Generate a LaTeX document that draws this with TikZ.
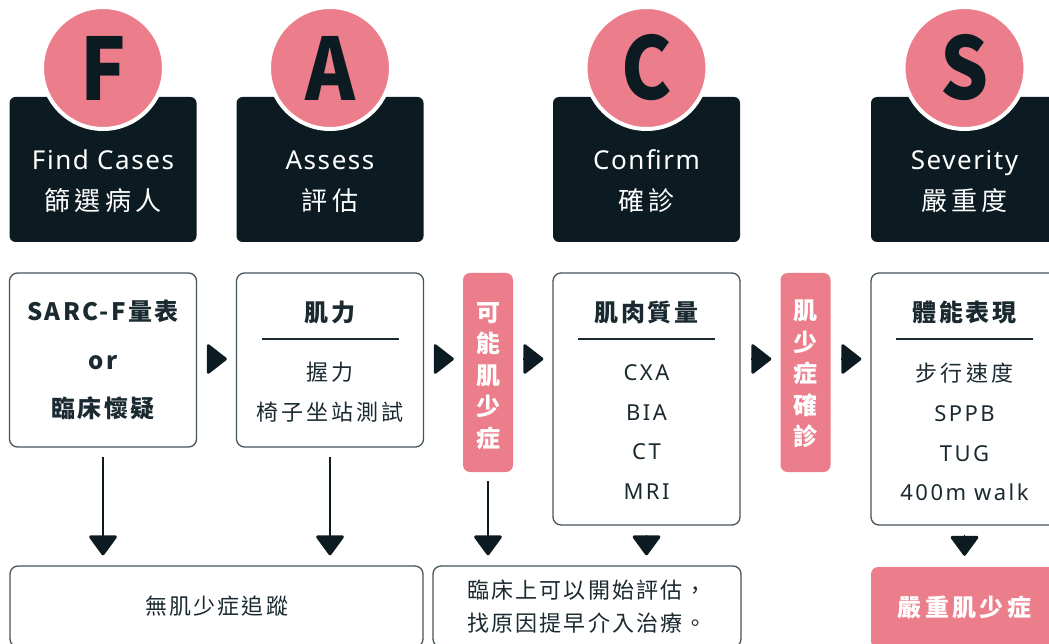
\documentclass[tikz,border=0pt]{standalone}
\usepackage{fontspec}
\setmainfont{Noto Sans}[LetterSpace=6]
\newfontfamily\tc{Noto Sans CJK TC}[LetterSpace=10]
\newfontfamily\badgefont{Noto Sans CJK TC}
\usetikzlibrary{arrows.meta}

\definecolor{ink}{HTML}{0B1B21}
\definecolor{rose}{HTML}{EC7D8B}
\definecolor{edge}{HTML}{46555B}
\definecolor{txt}{HTML}{1A2A30}

\tikzset{
  hdr/.style={fill=ink, rounded corners=6pt, minimum width=187pt, minimum height=145pt, inner sep=0pt},
  badge/.style={circle, fill=rose, draw=white, line width=4pt, minimum size=122pt, inner sep=0pt,
    text=ink, font=\badgefont\bfseries\fontsize{86}{86}\selectfont},
  hdtext/.style={text=white, inner sep=0pt, text height=19pt, text depth=0pt, font=\fontsize{26}{30}\selectfont},
  card/.style={draw=edge, line width=1.3pt, rounded corners=8pt, fill=white, inner sep=0pt},
  tag/.style={fill=rose, rounded corners=7pt, inner sep=0pt},
  head/.style={text=txt, inner sep=0pt, text height=18pt, text depth=0pt, font=\tc\bfseries\fontsize{24}{28}\selectfont},
  list/.style={text=txt, inner sep=0pt, align=center, font=\addfontfeatures{LetterSpace=11}\fontsize{22}{39.7}\selectfont},
  vtext/.style={text=white, inner sep=0pt, align=center, font=\tc\bfseries\fontsize{24}{31.5}\selectfont},
  rule/.style={txt, line width=1.2pt},
  flow/.style={ink, line width=1.3pt, -{Triangle[width=30pt,length=21pt,round,line width=3pt]}, shorten <=9pt, shorten >=10pt},
  jump/.style={ink, line width=1.3pt, -{Triangle[width=32pt,length=21pt,round,line width=3pt]}, shorten <=10pt, shorten >=9pt},
}
\newcommand{\wide}[1]{{\tc\addfontfeatures{LetterSpace=14}#1}}

\begin{document}
\begin{tikzpicture}[x=1pt,y=-1pt]
\useasboundingbox (0,0) rectangle (1049,644);

% F A C S headers
\foreach \x/\l/\en/\cn [count=\i] in {103/F/Find Cases/篩選病人, 330/A/Assess/評估, 646.5/C/Confirm/確診, 964.5/S/Severity/嚴重度} {
  \node[hdr] (hd\i) at (\x,169.5) {};
  \node[badge] (bd\i) at (\x,68) {\scalebox{0.88}[1]{\l}};
  \node[hdtext] (en\i) at (\x,160) {\en};
  \node[hdtext, font=\tc\addfontfeatures{LetterSpace=16}\fontsize{26}{30}\selectfont] (cn\i) at (\x,201) {\cn};
}

% middle row
\node[card, minimum width=187pt, minimum height=174pt, align=center, text=txt,
  font=\tc\bfseries\fontsize{24}{48.5}\selectfont] (sarc) at (103,360) {SARC-F量表\\or\\臨床懷疑};
\node[card, minimum width=187pt, minimum height=174pt] (grip) at (330,360) {};
\node[tag, minimum width=50pt, minimum height=199pt] (poss) at (488,372.5) {};
\node[card, minimum width=187pt, minimum height=252pt] (mass) at (646.5,399) {};
\node[tag, minimum width=50pt, minimum height=199pt] (conf) at (805.5,372.5) {};
\node[card, minimum width=187pt, minimum height=252pt] (perf) at (964.5,399) {};

% card contents
\node[head] (grip-t) at (330,312) {肌力};
\node[head] (mass-t) at (646.5,312) {肌肉質量};
\node[head] (perf-t) at (964.5,312) {體能表現};
\foreach \x in {330,646.5,964.5}
  \draw[rule] (\x-68.5,339) -- (\x+68.5,339);
\node[list] (grip-l) at (330,392) {\wide{握力}\\\wide{椅子坐站測試}};
\node[list] (mass-l) at (646.5,432) {CXA\\BIA\\CT\\MRI};
\node[list] (perf-l) at (964.5,432) {\wide{步行速度}\\SPPB\\TUG\\400m walk};
\node[vtext] (poss-t) at (488,376) {可\\能\\肌\\少\\症};
\node[vtext] (conf-t) at (805.5,374) {肌\\少\\症\\確\\診};

% outcomes
\node[card, minimum width=413pt, minimum height=81pt, text=txt, text height=16pt, text depth=0pt,
  font=\tc\fontsize{22}{26}\selectfont] (none) at (216.5,606.5) {無肌少症追蹤};
\node[card, minimum width=308pt, minimum height=81pt, align=center, text=txt,
  font=\tc\fontsize{22}{33}\selectfont] (early) at (587,606.5) {臨床上可以開始評估，\\找原因提早介入治療。};
\node[tag, minimum width=187pt, minimum height=81pt, text=white, text height=18pt, text depth=0pt,
  font=\tc\addfontfeatures{LetterSpace=14}\bfseries\fontsize{24}{28}\selectfont] (sev) at (964.5,607.5) {嚴重肌少症};

% arrows
\coordinate (row) at (0,359);
\draw[jump] (sarc.east |- row) -- (grip.west |- row);
\draw[jump] (grip.east |- row) -- (poss.west |- row);
\draw[jump] (poss.east |- row) -- (mass.west |- row);
\draw[jump] (mass.east |- row) -- (conf.west |- row);
\draw[jump] (conf.east |- row) -- (perf.west |- row);
\draw[flow] (sarc.south) -- (sarc.south |- none.north);
\draw[flow] (grip.south) -- (grip.south |- none.north);
\draw[flow] (poss.south) -- (poss.south |- early.north);
\draw[flow] (mass.south) -- (mass.south |- early.north);
\draw[flow, shorten >=11pt] (perf.south) -- (perf.south |- sev.north);

\end{tikzpicture}
\end{document}
